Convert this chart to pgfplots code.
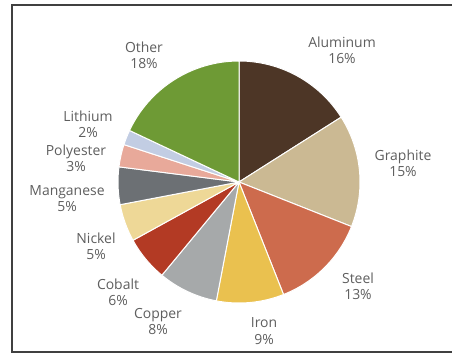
\documentclass[border=0pt]{standalone}
\usepackage{pgfplots}
\pgfplotsset{compat=1.18}
\usepackage{pgfplotstable}
\usepackage{fontspec}
\setmainfont{Open Sans}
\definecolor{pie0}{HTML}{4D3626}
\definecolor{pie1}{HTML}{CBB993}
\definecolor{pie2}{HTML}{CD6B4D}
\definecolor{pie3}{HTML}{EAC14F}
\definecolor{pie4}{HTML}{A6A9AA}
\definecolor{pie5}{HTML}{B33A24}
\definecolor{pie6}{HTML}{EED897}
\definecolor{pie7}{HTML}{6C7074}
\definecolor{pie8}{HTML}{E8A99A}
\definecolor{pie9}{HTML}{C2CDE3}
\definecolor{pie10}{HTML}{6E9A35}
\definecolor{labgray}{HTML}{5E5E5E}
\definecolor{framegray}{HTML}{404040}
\pgfplotstableread[col sep=comma]{
name,value,lx,ly
Aluminum,16,342,304
Graphite,15,403,190.5
Steel,13,358,67.5
Iron,9,264,23
Copper,8,158,32.5
Cobalt,6,118,61.5
Nickel,5,96,108
Manganese,5,67,155.5
Polyester,3,76,195.5
Lithium,2,88,229.5
Other,18,144,299
}\piedata
\begin{document}
\begin{tikzpicture}
\pgfplotstablegetrowsof{\piedata}
\pgfmathtruncatemacro\nlast{\pgfplotsretval-1}
\gdef\cum{0}
\foreach \i in {0,...,\nlast}{%
  \pgfplotstablegetelem{\i}{value}\of\piedata
  \let\v\pgfplotsretval
  \pgfmathsetmacro\st{90-3.6*\cum}%
  \pgfmathsetmacro\nc{\cum+\v}%
  \pgfmathsetmacro\en{90-3.6*\nc}%
  \expandafter\xdef\csname pieS\i\endcsname{\st}%
  \expandafter\xdef\csname pieE\i\endcsname{\en}%
  \expandafter\xdef\csname pieV\i\endcsname{\v}%
  \xdef\cum{\nc}%
  \pgfplotstablegetelem{\i}{name}\of\piedata
  \expandafter\xdef\csname pieN\i\endcsname{\pgfplotsretval}%
  \pgfplotstablegetelem{\i}{lx}\of\piedata
  \expandafter\xdef\csname pieX\i\endcsname{\pgfplotsretval}%
  \pgfplotstablegetelem{\i}{ly}\of\piedata
  \expandafter\xdef\csname pieY\i\endcsname{\pgfplotsretval}%
}
\begin{axis}[
  hide axis,
  x=1bp, y=1bp,
  xmin=0, xmax=452, ymin=0, ymax=354,
  scale only axis,
  clip=false,
]
\path[use as bounding box] (axis cs:0,0) rectangle (axis cs:452,354);
\draw[framegray, line width=1.2bp] (axis cs:452,349) -- (axis cs:12,349) -- (axis cs:12,2) -- (axis cs:452,2);
\pgfplotsinvokeforeach{0,...,10}{
  \filldraw[fill=pie#1, draw=white, line width=1bp, line join=round]
    (axis cs:239,172) -- ++(\csname pieS#1\endcsname:121bp)
    arc[start angle=\csname pieS#1\endcsname, end angle=\csname pieE#1\endcsname, radius=121bp] -- cycle;
  \node[align=center, text=labgray, font=\fontsize{14}{16.5}\selectfont, inner sep=0pt]
    at (axis cs:\csname pieX#1\endcsname,\csname pieY#1\endcsname)
    {\csname pieN#1\endcsname\\\csname pieV#1\endcsname\%};
}
\end{axis}
\end{tikzpicture}
\end{document}
